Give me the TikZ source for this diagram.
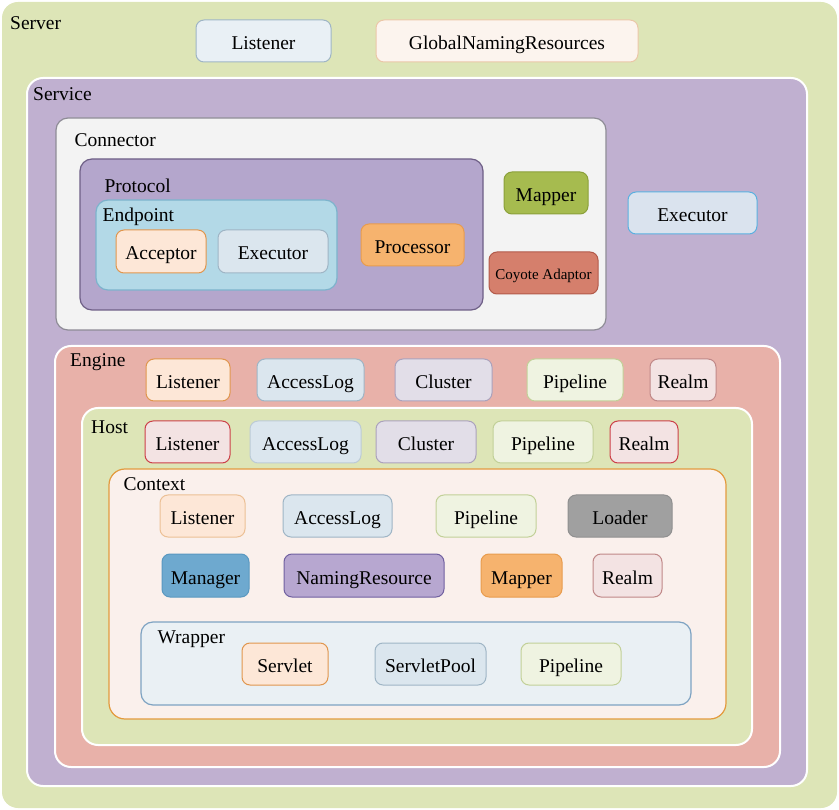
\documentclass[tikz,border=0pt]{standalone}
\usepackage{fontspec}
\setmainfont{Liberation Serif}
\usetikzlibrary{positioning}

\definecolor{greenbg}{HTML}{DDE5B7}
\definecolor{purplebg}{HTML}{C0B0D0}
\definecolor{redbg}{HTML}{E8B1A9}
\definecolor{conbg}{HTML}{F3F3F3}
\definecolor{conline}{HTML}{8E8C96}
\definecolor{protobg}{HTML}{B4A6CC}
\definecolor{protoline}{HTML}{6E5F86}
\definecolor{endbg}{HTML}{B3D9E7}
\definecolor{endline}{HTML}{7DB3CC}
\definecolor{ctxbg}{HTML}{FAF0EC}
\definecolor{ctxline}{HTML}{E39A3E}
\definecolor{wrapbg}{HTML}{EAF0F4}
\definecolor{wrapline}{HTML}{7EA3C2}
% component colours
\definecolor{blueline}{HTML}{9FB5C5}
\definecolor{bluebg}{HTML}{DBE6EE}
\definecolor{peachline}{HTML}{E0964E}
\definecolor{peachbg}{HTML}{FDE7D7}
\definecolor{creamline}{HTML}{EBC7A8}
\definecolor{creambg}{HTML}{FCF4EE}
\definecolor{lilacline}{HTML}{ABA2BC}
\definecolor{lilacbg}{HTML}{E2DEE8}
\definecolor{paleline}{HTML}{C2D098}
\definecolor{palebg}{HTML}{EFF3E1}
\definecolor{roseline}{HTML}{C08888}
\definecolor{rosebg}{HTML}{F3E3E3}
\definecolor{redline}{HTML}{CC4048}
\definecolor{orangeline}{HTML}{E89C4E}
\definecolor{orangebg}{HTML}{F6B36E}
\definecolor{oliveline}{HTML}{8BA03A}
\definecolor{olivebg}{HTML}{A6BB4F}
\definecolor{coyoteline}{HTML}{B25A4A}
\definecolor{coyotebg}{HTML}{D57F6C}
\definecolor{skyline}{HTML}{5AB0E0}
\definecolor{skybg}{HTML}{DAE3EE}
\definecolor{greyline}{HTML}{909090}
\definecolor{greybg}{HTML}{A0A0A0}
\definecolor{manline}{HTML}{5A98C0}
\definecolor{manbg}{HTML}{6EA9CF}
\definecolor{namline}{HTML}{7060A0}
\definecolor{nambg}{HTML}{B7A7D0}

\tikzset{
    frame/.style={draw=white, line width=2pt, rounded corners=16pt, inner sep=0pt},
    box/.style={draw, line width=1pt, rounded corners=8pt, inner sep=0pt, minimum height=42pt, text height=17pt, text depth=0pt},
    title/.style={inner sep=0pt}
}

\begin{document}
\begin{tikzpicture}[x=1pt, y=-1pt, font=\fontsize{19.5}{22}\selectfont]
    \useasboundingbox (0,0) rectangle (839,810);
    % Server
    \node (Server) [frame, draw=none, fill=greenbg, minimum width=835pt, minimum height=806pt] at (419.5,405) {};
    \node (SrvListener) [box, draw=blueline, fill=bluebg!60!white, minimum width=135pt] at (263.5,41) {Listener};
    \node (GlobalNaming) [box, draw=creamline, fill=creambg, minimum width=262pt] at (507,41) {GlobalNamingResources};
    % Service
    \node (Service) [frame, fill=purplebg, minimum width=780pt, minimum height=708pt] at (417,432) {};
    \node (Connector) [frame, draw=conline, line width=1.2pt, rounded corners=12pt, fill=conbg, minimum width=550pt, minimum height=212pt] at (331,224) {};
    \node (Protocol) [frame, draw=protoline, line width=1.2pt, rounded corners=12pt, fill=protobg, minimum width=403pt, minimum height=151pt] at (281.5,234.5) {};
    \node (Endpoint) [frame, draw=endline, line width=1.2pt, rounded corners=12pt, fill=endbg, minimum width=241pt, minimum height=90pt] at (216.5,245) {};
    \node (Acceptor) [box, draw=peachline, fill=peachbg, minimum width=90pt, minimum height=43pt] at (161,251.5) {Acceptor};
    \node (EpExecutor) [box, draw=blueline, fill=bluebg, minimum width=110pt, minimum height=43pt] at (273,251.5) {Executor};
    \node (Processor) [box, draw=orangeline, fill=orangebg, minimum width=103pt] at (412.5,245) {Processor};
    \node (CnMapper) [box, draw=oliveline, fill=olivebg, minimum width=84pt] at (546,193) {Mapper};
    \node (Coyote) [box, draw=coyoteline, fill=coyotebg, minimum width=109pt, text height=14pt, font=\fontsize{15}{18}\selectfont] at (543.5,273) {Coyote Adaptor};
    \node (SvExecutor) [box, draw=skyline, fill=skybg, minimum width=129pt] at (692.5,213) {Executor};
    % Engine
    \node (Engine) [frame, fill=redbg, minimum width=725pt, minimum height=421pt] at (417.5,556.5) {};
    \node (EnListener) [box, draw=peachline, fill=peachbg, minimum width=84pt] at (188,380) {Listener};
    \node (EnAccessLog) [box, draw=blueline, fill=bluebg, minimum width=107pt] at (310.5,380) {AccessLog};
    \node (EnCluster) [box, draw=lilacline, fill=lilacbg, minimum width=97pt] at (443.5,380) {Cluster};
    \node (EnPipeline) [box, draw=paleline, fill=palebg, minimum width=96pt] at (575,380) {Pipeline};
    \node (EnRealm) [box, draw=roseline, fill=rosebg, minimum width=66pt] at (683,380) {Realm};
    % Host
    \node (Host) [frame, fill=greenbg, minimum width=670pt, minimum height=337pt] at (417,576.5) {};
    \node (HoListener) [box, draw=redline, fill=rosebg, minimum width=85pt] at (187.5,442) {Listener};
    \node (HoAccessLog) [box, draw=blueline!70!white, fill=bluebg, minimum width=111pt] at (305.5,442) {AccessLog};
    \node (HoCluster) [box, draw=lilacline, fill=lilacbg, minimum width=100pt] at (426,442) {Cluster};
    \node (HoPipeline) [box, draw=paleline, fill=palebg, minimum width=100pt] at (543,442) {Pipeline};
    \node (HoRealm) [box, draw=redline, fill=rosebg, minimum width=68pt] at (644,442) {Realm};
    % Context
    \node (Context) [frame, draw=ctxline, line width=1.2pt, fill=ctxbg, minimum width=617pt, minimum height=250pt] at (417.5,594) {};
    \node (CxListener) [box, draw=peachline!60!white, fill=peachbg, minimum width=85pt] at (202.5,516) {Listener};
    \node (CxAccessLog) [box, draw=blueline, fill=bluebg, minimum width=109pt] at (337.5,516) {AccessLog};
    \node (CxPipeline) [box, draw=paleline, fill=palebg, minimum width=100pt] at (486,516) {Pipeline};
    \node (CxLoader) [box, draw=greyline, fill=greybg, minimum width=104pt] at (620,516) {Loader};
    \node (CxManager) [box, draw=manline, fill=manbg, minimum width=87pt, minimum height=43pt] at (205.5,575.5) {Manager};
    \node (CxNaming) [box, draw=namline, fill=nambg, minimum width=160pt, minimum height=43pt] at (364,575.5) {NamingResource};
    \node (CxMapper) [box, draw=orangeline, fill=orangebg, minimum width=81pt, minimum height=43pt] at (521.5,575.5) {Mapper};
    \node (CxRealm) [box, draw=roseline, fill=rosebg, minimum width=69pt, minimum height=43pt] at (627.5,575.5) {Realm};
    % Wrapper
    \node (Wrapper) [frame, draw=wrapline, line width=1.2pt, rounded corners=12pt, fill=wrapbg, minimum width=550pt, minimum height=83pt] at (416,663.5) {};
    \node (Servlet) [box, draw=peachline, fill=peachbg, minimum width=86pt] at (285,664) {Servlet};
    \node (ServletPool) [box, draw=blueline, fill=bluebg, minimum width=111pt] at (430.5,664) {ServletPool};
    \node (WrPipeline) [box, draw=paleline, fill=palebg, minimum width=100pt] at (571,664) {Pipeline};
    % Labels
    \node [title, anchor=north west, below right=15pt and 9pt of Server.north west] {Server};
    \node [title, anchor=north west, below right=10pt and 7pt of Service.north west] {Service};
    \node [title, anchor=north west, below right=16pt and 19pt of Connector.north west] {Connector};
    \node [title, anchor=north west, below right=20pt and 25pt of Protocol.north west] {Protocol};
    \node [title, anchor=north west, below right=8pt and 7pt of Endpoint.north west] {Endpoint};
    \node [title, anchor=north west, below right=8pt and 16pt of Engine.north west] {Engine};
    \node [title, anchor=north west, below right=14pt and 10pt of Host.north west] {Host};
    \node [title, anchor=north west, below right=9pt and 15pt of Context.north west] {Context};
    \node [title, anchor=north west, below right=9pt and 17pt of Wrapper.north west] {Wrapper};
\end{tikzpicture}
\end{document}
